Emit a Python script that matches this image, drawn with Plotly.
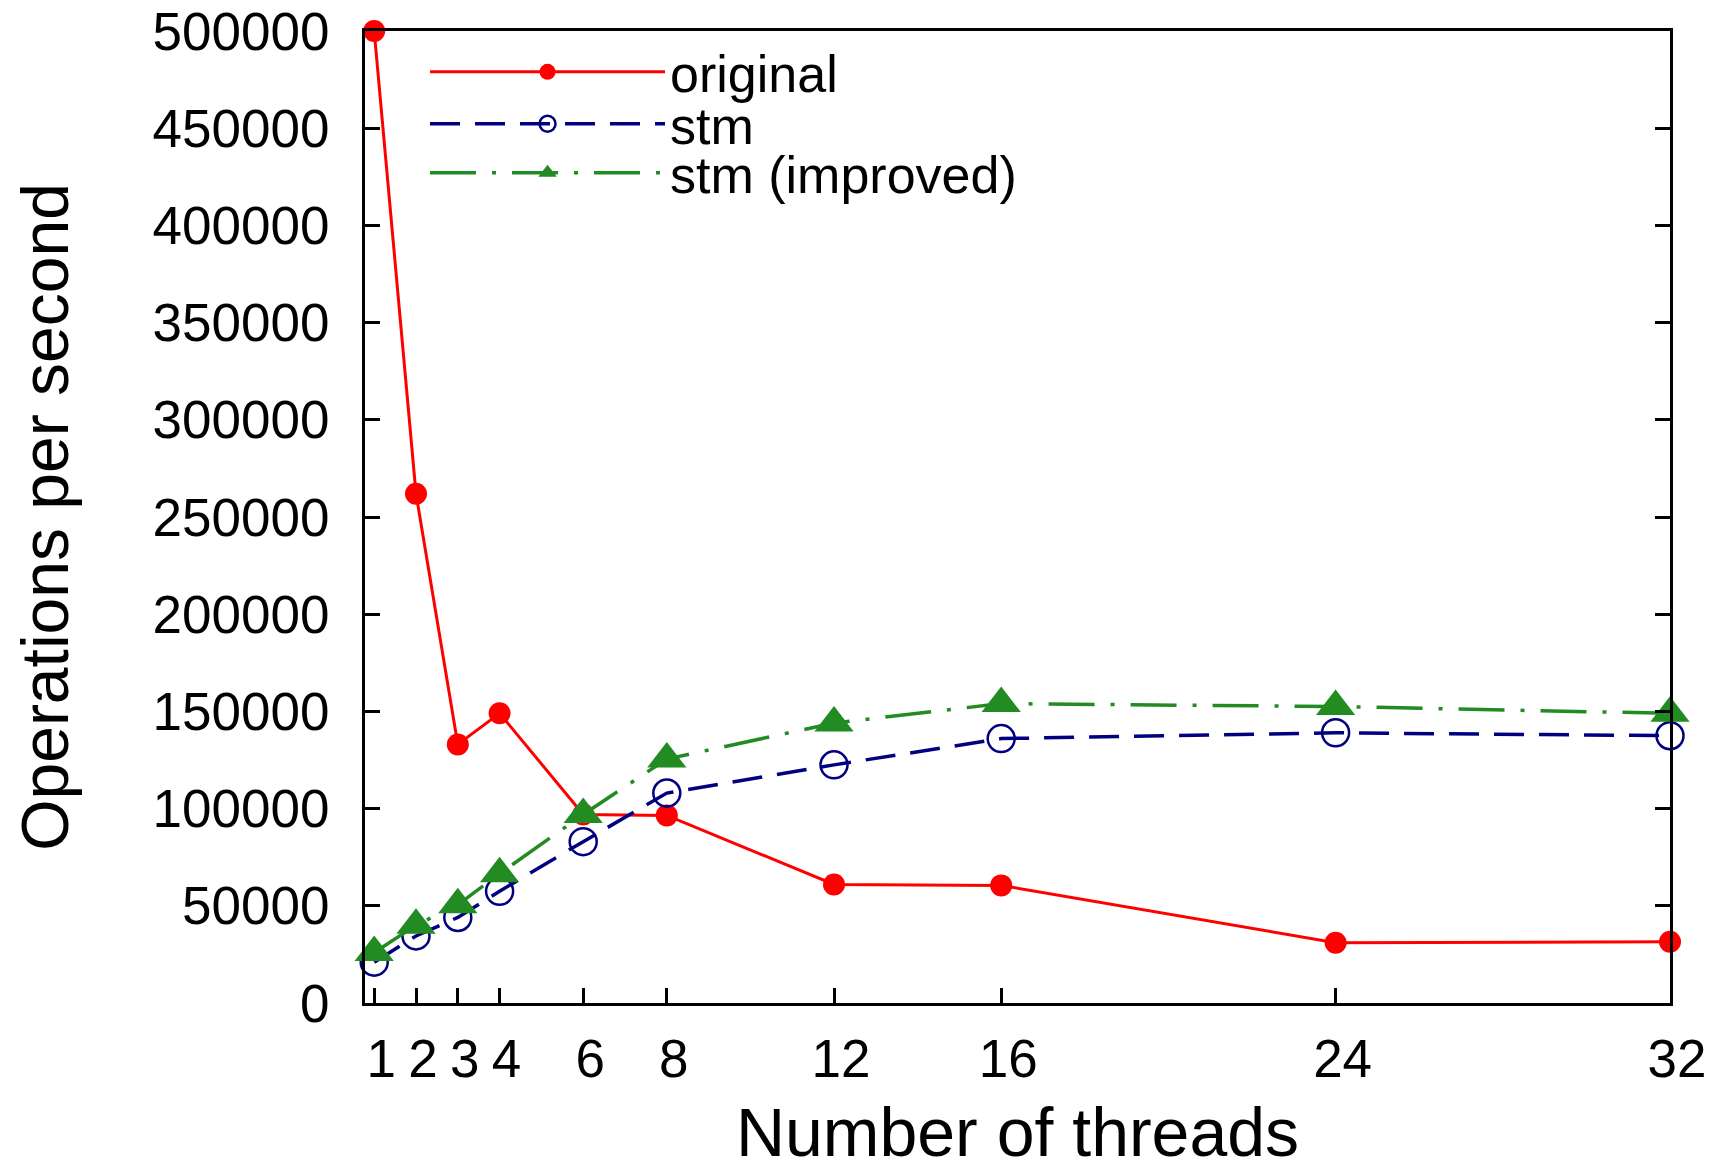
import plotly.graph_objects as go

threads = [1, 2, 3, 4, 6, 8, 12, 16, 24, 32]
original = [500000, 262000, 133000, 149000, 97000, 96500, 61000, 60500, 31000, 31500]
stm = [21000, 34500, 44000, 57500, 83000, 108000, 122500, 136000, 139000, 137500]
stm_improved = [26000, 40000, 50500, 66500, 97000, 125500, 144000, 154000, 152500, 149000]
y_ticks = [0, 50000, 100000, 150000, 200000, 250000, 300000, 350000, 400000, 450000, 500000]

FONT = "Liberation Sans, Arial, sans-serif"

fig = go.Figure()
fig.add_trace(go.Scatter(
    x=threads, y=original, name="original", mode="lines+markers",
    line=dict(color="#ff0000", width=3),
    marker=dict(symbol="circle", size=22, color="#ff0000"),
    cliponaxis=False, legend="legend",
))
fig.add_trace(go.Scatter(
    x=threads, y=stm, name="stm", mode="lines+markers",
    line=dict(color="#000080", width=3.5, dash="30px,15px"),
    marker=dict(symbol="circle-open", size=27, color="#000080", line=dict(width=2.5)),
    cliponaxis=False, legend="legend2",
))
fig.add_trace(go.Scatter(
    x=threads, y=stm_improved, name="stm (improved)", mode="lines+markers",
    line=dict(color="#228b22", width=3.5, dash="46px,16px,4px,16px"),
    marker=dict(symbol="triangle-up", size=34, color="#228b22"),
    cliponaxis=False, legend="legend3",
))

legend_common = dict(
    x=0.046, xanchor="left", yanchor="middle",
    bgcolor="rgba(0,0,0,0)", font=dict(size=52, family=FONT, color="black"),
    itemwidth=235,
)

fig.update_layout(
    width=1709, height=1162,
    paper_bgcolor="white", plot_bgcolor="white",
    margin=dict(l=357, r=47, t=23, b=167, autoexpand=False),
    font=dict(family=FONT, color="black", size=53),
    showlegend=True,
    legend=dict(y=0.9578, **legend_common),
    legend2=dict(y=0.9043, **legend_common),
    legend3=dict(y=0.8539, **legend_common),
)

fig.update_xaxes(
    range=[0.78, 32], tickvals=threads, ticktext=[str(t) for t in threads],
    ticks="inside", ticklen=15, tickwidth=2.5, tickcolor="black",
    showline=True, linecolor="black", linewidth=3, mirror=True,
    showgrid=False, zeroline=False, ticklabeloverflow="allow",
    tickfont=dict(size=53, family=FONT), ticklabelshift=7, ticklabelstandoff=7,
    title=dict(text="Number of threads", font=dict(size=68, family=FONT), standoff=30),
    automargin=False,
)
fig.update_yaxes(
    range=[0, 500000], tickvals=y_ticks, ticktext=[str(v) for v in y_ticks],
    ticks="inside", ticklen=15, tickwidth=2.5, tickcolor="black",
    showline=True, linecolor="black", linewidth=3, mirror="ticks",
    showgrid=False, zeroline=False, ticklabeloverflow="allow",
    tickfont=dict(size=53, family=FONT), ticklabelstandoff=22,
    title=dict(text="Operations per second", font=dict(size=66, family=FONT), standoff=66),
    automargin=False,
)

fig.write_html("out.html")
